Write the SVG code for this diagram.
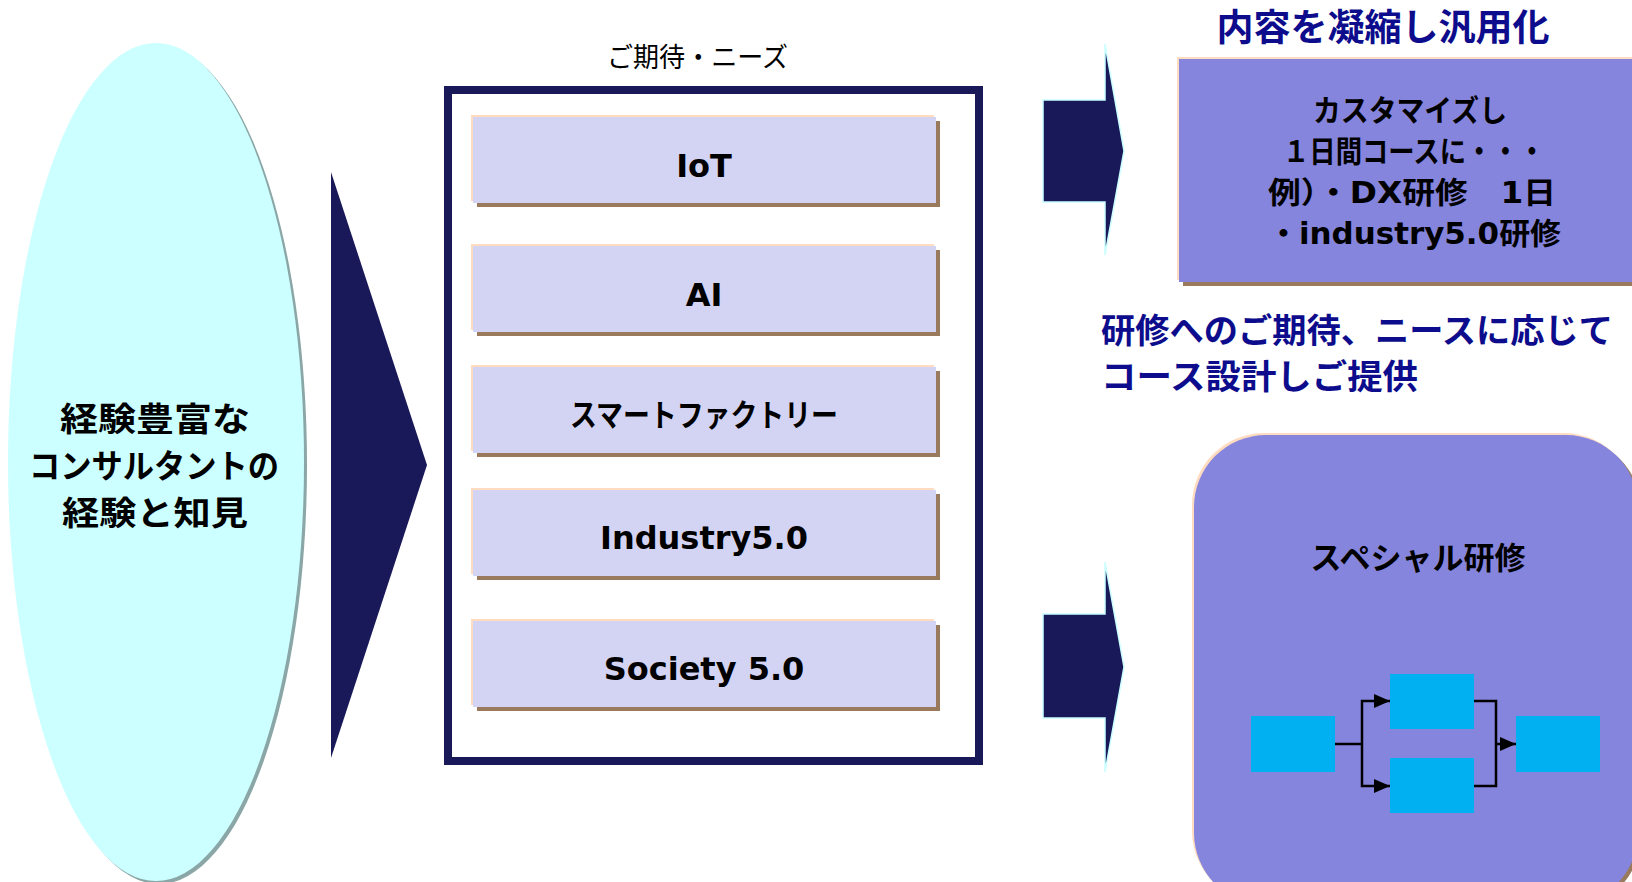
<svg xmlns="http://www.w3.org/2000/svg" width="1632" height="882" viewBox="0 0 1632 882">
<defs>
<style>
.jp{font-family:"Noto Sans CJK JP","DejaVu Sans",sans-serif;}
.lat{font-family:"DejaVu Sans","Noto Sans CJK JP",sans-serif;}
.b{font-weight:bold;}
.blk{fill:#000;}
.navytxt{fill:#0c0c8c;}
.peach{fill:#ffdcc0;}
.shadow{fill:#9a7a5c;}
.lav{fill:#d3d3f3;}
.purple{fill:#8585dd;}
.navy{fill:#19195a;}
.darrow{fill:#19195a;stroke:#ccffff;stroke-width:1.5;}
.flow{fill:#00b0f0;}
.conn{fill:none;stroke:#000;stroke-width:2.5;}
</style>
<marker id="ah" markerUnits="userSpaceOnUse" markerWidth="16" markerHeight="14" viewBox="0 0 16 14" refX="16" refY="7" orient="auto">
<path d="M0,0 L16,7 L0,14 z" fill="#000"/>
</marker>
</defs>
<rect width="1632" height="882" fill="#fff"/>

<g id="ellipse-node">
<ellipse cx="159" cy="465" rx="148" ry="419" fill="#8aa6a6"/>
<ellipse cx="156" cy="462" rx="148" ry="419" fill="#ccffff"/>
<text class="jp b blk" x="60" y="431" font-size="33" textLength="190" lengthAdjust="spacingAndGlyphs">経験豊富な</text>
<text class="jp b blk" x="29" y="478" font-size="33" textLength="250" lengthAdjust="spacingAndGlyphs">コンサルタントの</text>
<text class="jp b blk" x="62" y="525" font-size="33" textLength="186" lengthAdjust="spacingAndGlyphs">経験と知見</text>
</g>

<g id="big-arrow">
<polygon class="navy" points="331,172 427,465 331,758"/>
</g>

<g id="needs-panel">
<text class="jp blk" x="607" y="67" font-size="27" textLength="181" lengthAdjust="spacingAndGlyphs">ご期待・ニーズ</text>
<rect x="448" y="90" width="531" height="671" fill="#fff" stroke="#19195a" stroke-width="8"/>
</g>

<g id="node-iot">
<rect class="peach" x="471" y="115" width="463" height="86"/>
<rect class="shadow" x="477" y="121" width="463" height="86"/>
<rect class="lav" x="473" y="117" width="463" height="86"/>
<text class="lat b blk" x="704" y="177" font-size="32" text-anchor="middle">IoT</text>
</g>

<g id="node-ai">
<rect class="peach" x="471" y="244" width="463" height="86"/>
<rect class="shadow" x="477" y="250" width="463" height="86"/>
<rect class="lav" x="473" y="246" width="463" height="86"/>
<text class="lat b blk" x="704" y="306" font-size="32" text-anchor="middle">AI</text>
</g>

<g id="node-smart">
<rect class="peach" x="471" y="365" width="463" height="86"/>
<rect class="shadow" x="477" y="371" width="463" height="86"/>
<rect class="lav" x="473" y="367" width="463" height="86"/>
<text class="jp b blk" x="570" y="426" font-size="31" textLength="268" lengthAdjust="spacingAndGlyphs">スマートファクトリー</text>
</g>

<g id="node-industry">
<rect class="peach" x="471" y="488" width="463" height="86"/>
<rect class="shadow" x="477" y="494" width="463" height="86"/>
<rect class="lav" x="473" y="490" width="463" height="86"/>
<text class="lat b blk" x="704" y="549" font-size="32" text-anchor="middle">Industry5.0</text>
</g>

<g id="node-society">
<rect class="peach" x="471" y="619" width="463" height="86"/>
<rect class="shadow" x="477" y="625" width="463" height="86"/>
<rect class="lav" x="473" y="621" width="463" height="86"/>
<text class="lat b blk" x="704" y="680" font-size="32" text-anchor="middle">Society 5.0</text>
</g>

<g id="arrow-upper">
<polygon class="darrow" points="1043,100 1105,100 1105,44 1124,151 1105,255 1105,202 1043,202"/>
</g>
<g id="arrow-lower">
<polygon class="darrow" points="1043,614 1105,614 1105,562 1124,667 1105,772 1105,718 1043,718"/>
</g>

<g id="title-generic">
<text class="jp b navytxt" x="1383" y="41" font-size="37" text-anchor="middle">内容を凝縮し汎用化</text>
</g>

<g id="node-custom">
<rect class="peach" x="1177" y="57" width="470" height="223"/>
<rect class="shadow" x="1183" y="63" width="470" height="223"/>
<rect class="purple" x="1179" y="59" width="470" height="223"/>
<text class="lat b blk" x="1313" y="121" font-size="30" textLength="194" lengthAdjust="spacingAndGlyphs">カスタマイズし</text>
<text class="lat b blk" x="1283" y="162" font-size="30" textLength="262" lengthAdjust="spacingAndGlyphs">１日間コースに・・・</text>
<text class="lat b blk" x="1268" y="203" font-size="30" textLength="288" lengthAdjust="spacingAndGlyphs">例）・DX研修　1日</text>
<text class="lat b blk" x="1268" y="244" font-size="30" textLength="293" lengthAdjust="spacingAndGlyphs">・industry5.0研修</text>
</g>

<g id="caption-design">
<text class="jp b navytxt" x="1101" y="343" font-size="34" textLength="512" lengthAdjust="spacingAndGlyphs">研修へのご期待、ニースに応じて</text>
<text class="jp b navytxt" x="1101" y="389" font-size="34" textLength="317" lengthAdjust="spacingAndGlyphs">コース設計しご提供</text>
</g>

<g id="node-special">
<rect class="peach" x="1192" y="433" width="444" height="470" rx="72"/>
<rect class="shadow" x="1197" y="438" width="444" height="470" rx="72"/>
<rect class="purple" x="1194" y="435" width="444" height="470" rx="72"/>
<text class="jp b blk" x="1418" y="569" font-size="31" text-anchor="middle">スペシャル研修</text>
</g>

<g id="flow-box-1"><rect class="flow" x="1251" y="716" width="84" height="56"/></g>
<g id="flow-box-2"><rect class="flow" x="1390" y="674" width="84" height="55"/></g>
<g id="flow-box-3"><rect class="flow" x="1390" y="758" width="84" height="55"/></g>
<g id="flow-box-4"><rect class="flow" x="1516" y="716" width="84" height="56"/></g>

<g id="connectors">
<path class="conn" d="M1335,744 H1362"/>
<path class="conn" d="M1362,744 V701 H1390" marker-end="url(#ah)"/>
<path class="conn" d="M1362,744 V786 H1390" marker-end="url(#ah)"/>
<path class="conn" d="M1474,701 H1496 V786 H1474"/>
<path class="conn" d="M1496,744 H1516" marker-end="url(#ah)"/>
</g>
</svg>
